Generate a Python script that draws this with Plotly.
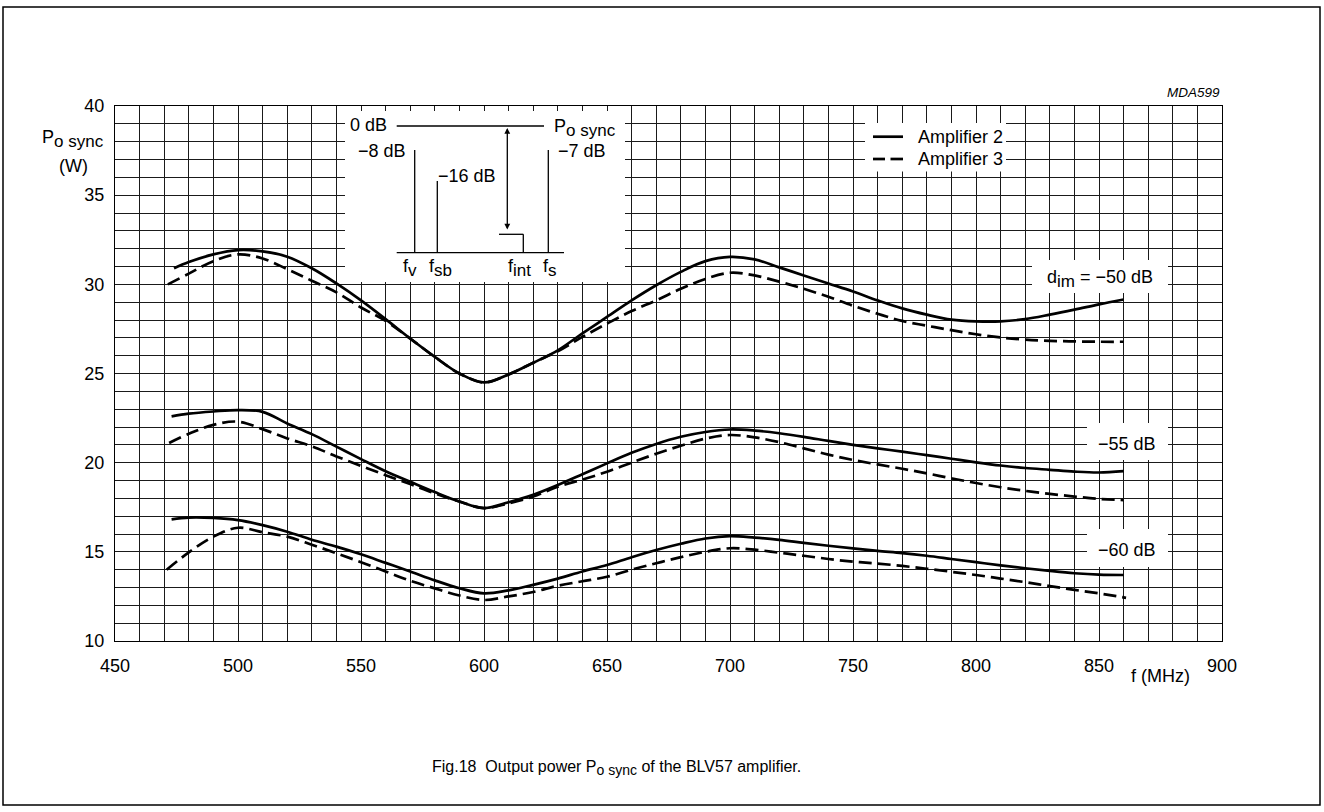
import plotly.graph_objects as go

# ---------------- data ----------------
freq_a2_50 = [474, 480, 490, 500, 510, 520, 530, 540, 550, 560, 570, 580, 590, 600, 610, 620,
              630, 640, 650, 660, 670, 680, 690, 700, 710, 720, 730, 740, 750, 760, 770, 780,
              790, 800, 810, 820, 830, 840, 850, 860]
p_a2_50 = [30.9, 31.25, 31.68, 31.92, 31.85, 31.55, 30.9, 30.05, 29.1, 28.05, 26.96, 25.93,
           25.0, 24.5, 24.95, 25.6, 26.3, 27.25, 28.17, 29.1, 29.95, 30.7, 31.3, 31.54, 31.4,
           30.95, 30.5, 30.05, 29.6, 29.1, 28.65, 28.3, 28.02, 27.92, 27.92, 28.05, 28.3,
           28.58, 28.88, 29.15]

freq_a3_50 = [471.5, 480, 490, 500, 510, 520, 530, 540, 550, 560, 570, 580, 590, 600, 610, 620,
              630, 640, 650, 660, 670, 680, 690, 700, 710, 720, 730, 740, 750, 760, 770, 780,
              790, 800, 810, 820, 830, 840, 850, 860]
p_a3_50 = [30.0, 30.6, 31.3, 31.68, 31.45, 30.85, 30.2, 29.55, 28.7, 27.95, 26.96, 25.93,
           25.0, 24.5, 24.95, 25.6, 26.25, 27.05, 27.8, 28.5, 29.1, 29.75, 30.3, 30.65, 30.5,
           30.15, 29.75, 29.3, 28.8, 28.35, 27.95, 27.68, 27.43, 27.2, 27.02, 26.9, 26.83,
           26.8, 26.78, 26.78]

freq_a2_55 = [473, 480, 490, 500, 510, 520, 530, 540, 550, 560, 570, 580, 590, 600, 610, 620,
              630, 640, 650, 660, 670, 680, 690, 700, 710, 720, 730, 740, 750, 760, 770, 780,
              790, 800, 810, 820, 830, 840, 850, 860]
p_a2_55 = [22.6, 22.75, 22.87, 22.95, 22.85, 22.2, 21.6, 20.9, 20.2, 19.52, 18.93, 18.35,
           17.82, 17.45, 17.78, 18.2, 18.75, 19.35, 19.96, 20.55, 21.05, 21.45, 21.72, 21.86,
           21.8, 21.65, 21.45, 21.22, 21.0, 20.8, 20.62, 20.42, 20.22, 20.02, 19.84, 19.7,
           19.6, 19.5, 19.45, 19.53]

freq_a3_55 = [472, 480, 490, 500, 510, 520, 530, 540, 550, 560, 570, 580, 590, 600, 610, 620,
              630, 640, 650, 660, 670, 680, 690, 700, 710, 720, 730, 740, 750, 760, 770, 780,
              790, 800, 810, 820, 830, 840, 850, 860]
p_a3_55 = [21.1, 21.62, 22.12, 22.3, 21.88, 21.36, 20.92, 20.35, 19.82, 19.3, 18.8, 18.28,
           17.82, 17.45, 17.72, 18.1, 18.65, 19.05, 19.49, 20.0, 20.5, 20.95, 21.35, 21.55,
           21.42, 21.15, 20.8, 20.45, 20.15, 19.9, 19.66, 19.4, 19.12, 18.86, 18.62, 18.42,
           18.25, 18.1, 17.97, 17.9]

freq_a2_60 = [473, 480, 490, 500, 510, 520, 530, 540, 550, 560, 570, 580, 590, 600, 610, 620,
              630, 640, 650, 660, 670, 680, 690, 700, 710, 720, 730, 740, 750, 760, 770, 780,
              790, 800, 810, 820, 830, 840, 850, 860]
p_a2_60 = [16.82, 16.92, 16.9, 16.78, 16.5, 16.13, 15.68, 15.29, 14.86, 14.38, 13.9, 13.4,
           12.96, 12.67, 12.84, 13.15, 13.5, 13.9, 14.26, 14.7, 15.1, 15.45, 15.75, 15.88,
           15.8, 15.67, 15.5, 15.34, 15.19, 15.05, 14.93, 14.78, 14.6, 14.42, 14.24, 14.08,
           13.93, 13.8, 13.72, 13.7]

freq_a3_60 = [471, 480, 490, 500, 510, 520, 530, 540, 550, 560, 570, 580, 590, 600, 610, 620,
              630, 640, 650, 660, 670, 680, 690, 700, 710, 720, 730, 740, 750, 760, 770, 780,
              790, 800, 810, 820, 830, 840, 850, 861]
p_a3_60 = [14.0, 14.97, 15.85, 16.35, 16.1, 15.85, 15.4, 14.92, 14.42, 13.9, 13.38, 12.95,
           12.55, 12.3, 12.5, 12.75, 13.1, 13.35, 13.6, 14.0, 14.36, 14.7, 15.0, 15.2, 15.12,
           14.95, 14.78, 14.6, 14.45, 14.34, 14.21, 14.05, 13.88, 13.7, 13.5, 13.3, 13.08,
           12.87, 12.67, 12.42]

x_ticks = [450, 500, 550, 600, 650, 700, 750, 800, 850, 900]
y_ticks = [10, 15, 20, 25, 30, 35, 40]

# ---------------- layout geometry ----------------
W, H = 1324, 812
ML, MR, MT, MB = 115, 102, 106, 171
X0, X1, Y0, Y1 = 450, 900, 10, 40
PW, PH = W - ML - MR, H - MT - MB


def dx(px):  # page pixel -> data x
    return X0 + (px - ML) * (X1 - X0) / PW


def dy(py):  # page pixel -> data y
    return Y1 - (py - MT) * (Y1 - Y0) / PH


def ppx(px):  # page pixel -> paper x
    return (px - ML) / PW


def ppy(py):  # page pixel -> paper y
    return 1 - (py - MT) / PH


FONT = "Liberation Sans, Arial, sans-serif"
FS = 18
INK = "#000000"
GRID = "#1a1a1a"


def sub(s, size=FS - 1):
    return '<sub><span style="font-size:%dpx">%s</span></sub>' % (size, s)


fig = go.Figure()

series = [
    ("Amplifier 2, d_im = −50 dB", freq_a2_50, p_a2_50, "solid"),
    ("Amplifier 3, d_im = −50 dB", freq_a3_50, p_a3_50, "dash"),
    ("Amplifier 2, d_im = −55 dB", freq_a2_55, p_a2_55, "solid"),
    ("Amplifier 3, d_im = −55 dB", freq_a3_55, p_a3_55, "dash"),
    ("Amplifier 2, d_im = −60 dB", freq_a2_60, p_a2_60, "solid"),
    ("Amplifier 3, d_im = −60 dB", freq_a3_60, p_a3_60, "dash"),
]
for name, xs, ys, style in series:
    fig.add_trace(go.Scatter(
        x=xs, y=ys, mode="lines", name=name, showlegend=False,
        line=dict(color=INK, width=2.7, shape="spline", smoothing=1.0,
                  dash="13px,6px" if style == "dash" else "solid"),
        hoverinfo="x+y+name",
    ))

shapes = []
annotations = []


def white_box(px0, py0, px1, py1):
    shapes.append(dict(type="rect", xref="x", yref="y", layer="between",
                       x0=dx(px0), x1=dx(px1), y0=dy(py1), y1=dy(py0),
                       fillcolor="white", line=dict(width=0)))


def seg(px0, py0, px1, py1, width=1.3):
    shapes.append(dict(type="line", xref="x", yref="y", layer="above",
                       x0=dx(px0), x1=dx(px1), y0=dy(py0), y1=dy(py1),
                       line=dict(color=INK, width=width)))


def text(px, py, s, xanchor="center", yanchor="middle", size=FS, italic=False):
    annotations.append(dict(
        x=dx(px), y=dy(py), xref="x", yref="y", text=s, showarrow=False,
        xanchor=xanchor, yanchor=yanchor,
        font=dict(family=FONT, size=size, color=INK, style="italic" if italic else "normal")))


def ptext(px, py, s, xanchor="center", yanchor="middle", size=FS, italic=False):
    annotations.append(dict(
        x=ppx(px), y=ppy(py), xref="paper", yref="paper", text=s, showarrow=False,
        xanchor=xanchor, yanchor=yanchor,
        font=dict(family=FONT, size=size, color=INK, style="italic" if italic else "normal")))


# white boxes that interrupt the grid
white_box(345, 111, 625, 282)      # spectrum inset
white_box(865, 123, 1006, 171.5)   # legend
white_box(1032, 260, 1168, 293)    # d_im = -50 dB
white_box(1087, 423, 1168, 460)    # -55 dB
white_box(1087, 529, 1168, 567)    # -60 dB

# spectrum inset diagram
base = 252.7
seg(396.7, 126, 544, 126)
seg(396.7, base, 564, base)
seg(414.7, 150, 414.7, base)
seg(437.3, 181, 437.3, base)
seg(548.3, 150, 548.3, base)
seg(499, 234.3, 523.3, 234.3)
seg(523.3, 234.3, 523.3, base)
annotations.append(dict(
    x=dx(507.3), y=dy(128), ax=dx(507.3), ay=dy(231), xref="x", yref="y", axref="x", ayref="y",
    text="", showarrow=True, arrowside="end+start", arrowhead=2, arrowsize=0.9,
    arrowwidth=1.3, arrowcolor=INK, standoff=0, startstandoff=0))
text(389, 125, "0 dB", xanchor="right")
text(552, 128, "P" + sub("o sync"), xanchor="left")
text(408, 151, "−8 dB", xanchor="right")
text(436, 176, "−16 dB", xanchor="left")
text(556, 151, "−7 dB", xanchor="left")
text(410, 268, "f" + sub("v"))
text(440, 268, "f" + sub("sb"))
text(519.5, 268, "f" + sub("int"))
text(550, 268, "f" + sub("s"))

# legend
seg(873, 136.7, 903, 136.7, width=2.7)
seg(873, 159, 885, 159, width=2.7)
seg(890.5, 159, 903, 159, width=2.7)
text(916, 136.7, "Amplifier 2", xanchor="left")
text(916, 159, "Amplifier 3", xanchor="left")

# curve labels
text(1100, 279, "d" + sub("im") + " = −50 dB")
text(1127, 444, "−55 dB")
text(1127, 550, "−60 dB")

# outer texts
ptext(1222, 93, "MDA599", xanchor="right", size=13.5, italic=True)
ptext(73, 139, "P" + sub("o sync"))
ptext(73, 166, "(W)")
ptext(1160, 676, "f (MHz)")
ptext(616, 768, "Fig.18  Output power P" + sub("o sync", 14) + " of the BLV57 amplifier.",
      size=16)

# outer frame
shapes.append(dict(type="rect", xref="paper", yref="paper", layer="above",
                   x0=ppx(3), x1=ppx(1320), y0=ppy(805), y1=ppy(7),
                   line=dict(color=INK, width=1.5), fillcolor="rgba(0,0,0,0)"))

axis_common = dict(
    showgrid=True, gridcolor=GRID, gridwidth=1,
    showline=True, linecolor=INK, linewidth=1, mirror=True,
    zeroline=False, ticks="", color=INK,
    tickfont=dict(family=FONT, size=FS, color=INK),
)

fig.update_layout(
    width=W, height=H,
    margin=dict(l=ML, r=MR, t=MT, b=MB, pad=0),
    paper_bgcolor="white", plot_bgcolor="white",
    font=dict(family=FONT, size=FS, color=INK),
    xaxis=dict(range=[X0, X1], tickvals=x_ticks, ticktext=[str(v) for v in x_ticks],
               minor=dict(dtick=10, tick0=450, showgrid=True, gridcolor=GRID, gridwidth=1),
               ticklabelstandoff=8, **axis_common),
    yaxis=dict(range=[Y0, Y1], tickvals=y_ticks, ticktext=[str(v) for v in y_ticks],
               minor=dict(dtick=1, tick0=10, showgrid=True, gridcolor=GRID, gridwidth=1),
               ticklabelstandoff=6, **axis_common),
    shapes=shapes, annotations=annotations,
    showlegend=False,
)

fig.write_html("out.html", config={"displayModeBar": False},
               post_script="document.body.style.margin='0px';document.body.style.overflow='hidden';")
